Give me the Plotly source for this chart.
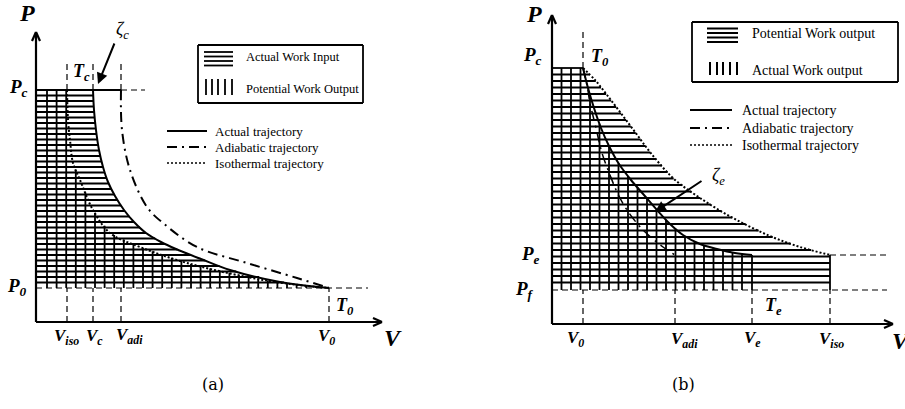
import numpy as np
import plotly.graph_objects as go

# ---------------- Panel (a): compression (units: diagram units, origin at axes corner)
A_V_ISO, A_V_C, A_V_ADI, A_V_0 = 31, 57, 85, 293
A_P_C, A_P_0 = 232, 34
a_actual_V = [57, 58, 60, 63, 67, 72, 79, 88, 98, 110, 125, 140, 165, 194, 244, 293]
a_actual_P = [232, 212, 192, 172, 155, 140, 126, 112, 100, 89, 80, 73, 63, 52, 40, 34]
a_iso_V = [31, 32, 34, 37, 44, 57, 74, 104, 151, 211, 254, 293]
a_iso_P = [232, 202, 182, 159, 142, 112, 89, 75, 59, 45, 38, 34]
a_adi_V = [85, 86, 94, 111, 127, 161, 211, 261, 293]
a_adi_P = [232, 192, 152, 115, 99, 75, 59, 44, 34]

# ---------------- Panel (b): expansion
B_V_0, B_V_ADI, B_V_E, B_V_ISO = 31, 123, 200, 278
B_P_C, B_P_E, B_P_F = 256, 69, 34
b_actual_V = [31, 36, 42, 49, 57, 67, 79, 92, 105, 118, 131, 148, 165, 183, 200]
b_actual_P = [256, 236, 216, 196, 178, 160, 144, 129, 114, 100, 89, 80, 75, 71, 69]
b_iso_V = [31, 43, 55, 68, 83, 98, 121, 148, 181, 218, 248, 278]
b_iso_P = [256, 244, 229, 212, 192, 172, 146, 126, 106, 88, 77, 69]
b_adi_V = [31, 35, 38, 44, 50, 58, 65, 75, 91, 111, 123]
b_adi_P = [256, 239, 221, 196, 171, 149, 132, 114, 94, 77, 69]

legend_a_fill = ["Actual Work Input", "Potential Work Output"]
legend_b_fill = ["Potential Work output", "Actual Work output"]
legend_lines = ["Actual trajectory", "Adiabatic trajectory", "Isothermal trajectory"]

BLACK = "#000000"
SERIF = "Liberation Serif"


def x_at_P(p, Vs, Ps):
    return float(np.interp(p, Ps[::-1], Vs[::-1]))


def P_at_V(v, Vs, Ps):
    return float(np.interp(v, Vs, Ps))


def segs(pairs):
    xs, ys = [], []
    for (x0, y0, x1, y1) in pairs:
        xs += [x0, x1, None]
        ys += [y0, y1, None]
    return xs, ys


fig = go.Figure()


def add_lines(pairs, ax, width=1.8, dash="solid", color=BLACK):
    xs, ys = segs(pairs)
    xa, ya = ax
    fig.add_trace(go.Scatter(x=xs, y=ys, mode="lines", xaxis=xa, yaxis=ya,
                             line=dict(color=color, width=width, dash=dash),
                             hoverinfo="skip", showlegend=False))


def add_curve(Vs, Ps, ax, width=1.8, dash="solid"):
    xa, ya = ax
    fig.add_trace(go.Scatter(x=Vs, y=Ps, mode="lines", xaxis=xa, yaxis=ya,
                             line=dict(color=BLACK, width=width, dash=dash, shape="spline", smoothing=1),
                             hoverinfo="skip", showlegend=False))


AXA = ("x", "y")
AXB = ("x2", "y2")
DASH = "6px,4px"
DOT = "2px,2px"
DASHDOT = "10px,5px,2px,5px"

# ================= Panel (a) =================
aV = np.array(a_actual_V, float); aP = np.array(a_actual_P, float)
iV = np.array(a_iso_V, float); iP = np.array(a_iso_P, float)
# horizontal hatch (actual work input)
pairs = []
for p in np.arange(A_P_C - 5.5, A_P_0 + 2, -5.5):
    pairs.append((0, p, x_at_P(p, aV, aP), p))
pairs.append((0, A_P_C, A_V_ADI, A_P_C))
add_lines(pairs, AXA)
# vertical hatch (potential work output)
pairs = []
for v in np.arange(11, A_V_0 - 2, 9.6):
    top = A_P_C if v <= A_V_ISO else P_at_V(v, iV, iP)
    pairs.append((v, A_P_0, v, top))
add_lines(pairs, AXA)
# curves
add_curve(a_actual_V, a_actual_P, AXA, width=2)
add_curve(a_iso_V, a_iso_P, AXA, width=2, dash=DOT)
add_curve(a_adi_V, a_adi_P, AXA, width=2, dash=DASHDOT)
# dashed guides
pairs = [(0, A_P_0, 332, A_P_0), (A_V_ADI, A_P_C, 109, A_P_C)]
for v in (A_V_ISO, A_V_C, A_V_ADI):
    pairs.append((v, A_P_C, v, 262))
for v in (A_V_ISO, A_V_C, A_V_ADI, A_V_0):
    pairs.append((v, 0, v, A_P_0))
add_lines(pairs, AXA, width=1.2, dash=DASH)
# axes with arrows
add_lines([(0, 0, 0, 289), (0, 0, 345, 0),
           (-4, 281, 0, 290), (4, 281, 0, 290),
           (337, 4, 346, 0), (337, -4, 346, 0)], AXA, width=2.2)

# ================= Panel (b) =================
baV = np.array(b_actual_V, float); baP = np.array(b_actual_P, float)
biV = np.array(b_iso_V, float); biP = np.array(b_iso_P, float)
pairs = []
for p in np.arange(B_P_C, B_P_F + 2, -6.5):
    xr = B_V_ISO if p <= B_P_E else x_at_P(p, biV, biP)
    pairs.append((0, p, xr, p))
add_lines(pairs, AXB)
pairs = []
for v in list(np.arange(9.5, B_V_E - 3, 9.5)) + [B_V_E]:
    top = B_P_C if v <= B_V_0 else P_at_V(v, baV, baP)
    pairs.append((v, B_P_F, v, top))
pairs.append((B_V_ISO, B_P_F, B_V_ISO, B_P_E))
add_lines(pairs, AXB)
add_curve(b_actual_V, b_actual_P, AXB, width=2)
add_curve(b_iso_V, b_iso_P, AXB, width=2, dash=DOT)
add_curve(b_adi_V, b_adi_P, AXB, width=1.5, dash=DASHDOT)
pairs = [(0, B_P_F, 335, B_P_F), (B_V_ISO, B_P_E, 335, B_P_E), (B_V_0, B_P_C, B_V_0, 294)]
for v in (B_V_0, B_V_ADI, B_V_E, B_V_ISO):
    pairs.append((v, 0, v, B_P_F))
add_lines(pairs, AXB, width=1.2, dash=DASH)
add_lines([(0, 0, 0, 308), (0, 0, 340, 0),
           (-4, 300, 0, 309), (4, 300, 0, 309),
           (332, 4, 341, 0), (332, -4, 341, 0)], AXB, width=2.2)

# ================= legends (drawn) =================
add_lines([(162, 277, 327, 277), (327, 277, 327, 219), (327, 219, 162, 219), (162, 219, 162, 277)], AXA, width=1.8)
add_lines([(168, p, 197, p) for p in (270, 265.5, 261, 256.5)], AXA, width=1.8)
add_lines([(v, 243, v, 227) for v in (170, 176, 182, 189, 196)], AXA, width=1.8)
add_lines([(131, 191, 171, 191)], AXA, width=1.8)
add_lines([(131, 175, 171, 175)], AXA, width=1.8, dash=DASHDOT)
add_lines([(131, 159, 171, 159)], AXA, width=1.5, dash=DOT)
add_lines([(140, 302, 346, 302), (346, 302, 346, 242), (346, 242, 140, 242), (140, 242, 140, 302)], AXB, width=1.8)
add_lines([(155, p, 186, p) for p in (295.5, 291, 286.5, 282)], AXB, width=2)
add_lines([(v, 262, v, 249) for v in (158, 165, 171, 178, 185)], AXB, width=2)
add_lines([(138, 214, 180, 214)], AXB, width=1.8)
add_lines([(138, 196, 180, 196)], AXB, width=1.8, dash=DASHDOT)
add_lines([(138, 179, 180, 179)], AXB, width=1.5, dash=DOT)

ann = []


def label(text, x, y, axes, size=18, anchor="center", family=SERIF, color=BLACK):
    ann.append(dict(text=text, x=x, y=y, xref=axes[0], yref=axes[1], showarrow=False,
                    xanchor=anchor, yanchor="middle", font=dict(family=family, size=size, color=color)))


def bi(s, sub=None):
    if sub is None:
        return "<b><i>%s</i></b>" % s
    return "<b><i>%s<sub>%s</sub></i></b>" % (s, sub)


# panel a labels
label(bi("P"), -9, 309, AXA, size=24)
label(bi("P", "c"), -18, 234, AXA, size=19)
label(bi("P", "0"), -19, 35, AXA, size=19)
label(bi("T", "c"), 45, 250, AXA, size=18)
label(bi("T", "0"), 309, 16, AXA, size=18)
label(bi("V", "iso"), 30, -15, AXA, size=17)
label(bi("V", "c"), 58, -15, AXA, size=17)
label(bi("V", "adi"), 93, -14, AXA, size=17)
label(bi("V", "0"), 290, -15, AXA, size=17)
label(bi("V"), 357, -16, AXA, size=24)
label("<i>ζ<sub>c</sub></i>", 86, 292, AXA, size=18)
ann.append(dict(x=62, y=238, ax=79, ay=280, xref="x", yref="y", axref="x", ayref="y",
                showarrow=True, arrowhead=2, arrowsize=1.1, arrowwidth=2, arrowcolor=BLACK, text=""))
label(legend_a_fill[0], 208, 265, AXA, size=12.5, anchor="left")
label(legend_a_fill[1], 208, 233, AXA, size=12.5, anchor="left")
for t, p in zip(legend_lines, (191, 175, 159)):
    label(t, 177, p, AXA, size=13, anchor="left")
label("(a)", 177, -62, AXA, size=16, family="DejaVu Serif")

# panel b labels
label(bi("P"), -18, 310, AXB, size=24)
label(bi("P", "c"), -20, 268, AXB, size=19)
label(bi("T", "0"), 48, 267, AXB, size=18)
label(bi("P", "e"), -22, 69, AXB, size=19)
label(bi("P", "f"), -28, 34, AXB, size=19)
label(bi("T", "e"), 221, 18, AXB, size=18)
label(bi("V", "0"), 23, -15, AXB, size=17)
label(bi("V", "adi"), 132, -16, AXB, size=17)
label(bi("V", "e"), 200, -15, AXB, size=17)
label(bi("V", "iso"), 279, -16, AXB, size=17)
label(bi("V"), 349, -17, AXB, size=24)
label("<i>ζ<sub>e</sub></i>", 166, 148, AXB, size=18)
ann.append(dict(x=103, y=112, ax=151, ay=144, xref="x2", yref="y2", axref="x2", ayref="y2",
                showarrow=True, arrowhead=2, arrowsize=1.1, arrowwidth=2, arrowcolor=BLACK, text=""))
label(legend_b_fill[0], 198, 291, AXB, size=14, anchor="left")
label(legend_b_fill[1], 198, 254, AXB, size=14, anchor="left")
for t, p in zip(legend_lines, (214, 196, 179)):
    label(t, 188, p, AXB, size=14, anchor="left")
label("(b)", 131, -60, AXB, size=16, family="DejaVu Serif")

ax_common = dict(visible=False, showgrid=False, zeroline=False, fixedrange=True)
fig.update_layout(
    width=905, height=409, autosize=False,
    margin=dict(l=0, r=0, t=0, b=0, pad=0),
    paper_bgcolor="white", plot_bgcolor="white",
    showlegend=False,
    xaxis=dict(domain=[0, 0.5], range=[-36, 416.5], anchor="y", **ax_common),
    yaxis=dict(domain=[0, 1], range=[-87, 322], anchor="x", **ax_common),
    xaxis2=dict(domain=[0.5, 1], range=[-99.5, 353], anchor="y2", **ax_common),
    yaxis2=dict(domain=[0, 1], range=[-85, 324], anchor="x2", **ax_common),
    annotations=ann,
)

fig.write_html("out.html", config={"displayModeBar": False})
